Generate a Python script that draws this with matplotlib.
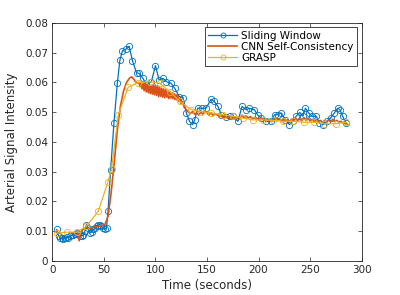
import matplotlib
matplotlib.use("Agg")
import matplotlib.pyplot as plt

# sliding window reconstruction
sw_t = [4.2, 6, 7.4, 9, 10.6, 12, 13.9, 15.5, 17, 18.5, 20, 22, 23.5, 25, 26.8, 28.5, 30,
        31.5, 33, 35, 36.5, 38, 39.7, 41.5, 43, 44.5, 46, 47.5, 49, 51, 52.5, 54, 56.5,
        59.7, 63, 65.5, 68, 71.3, 74.5, 77.7, 81.6, 84, 88, 91, 96, 100, 103.5, 107.4,
        110.6, 115, 118.7, 123, 126.8, 130, 133, 136, 138, 141, 145.5, 149, 154, 157,
        160.6, 164, 168, 172, 175, 180, 184, 188, 191, 196, 199, 202.6, 207, 212, 215.5,
        218.7, 222, 226, 230, 233, 236.5, 240, 243, 245.5, 248.7, 252, 256, 259, 263, 266,
        270, 273.5, 276.8, 279, 281.6, 285]
sw_y = [0.0106, 0.0085, 0.0078, 0.0076, 0.0074, 0.0078, 0.0080, 0.0079, 0.0083, 0.0086,
        0.0089, 0.0092, 0.0094, 0.0090, 0.0083, 0.0085, 0.0086, 0.0100, 0.0122, 0.0110,
        0.0094, 0.0098, 0.0106, 0.0110, 0.0119, 0.0121, 0.0122, 0.0118, 0.0110, 0.0107,
        0.0112, 0.0169, 0.0306, 0.0463, 0.0597, 0.0675, 0.0706, 0.0711, 0.0721, 0.0672,
        0.0632, 0.0630, 0.0613, 0.0591, 0.0602, 0.0656, 0.0608, 0.0613, 0.0602, 0.0597,
        0.0580, 0.0552, 0.0549, 0.0497, 0.0469, 0.0458, 0.0474, 0.0513, 0.0513, 0.0513,
        0.0543, 0.0536, 0.0519, 0.0491, 0.0482, 0.0486, 0.0486, 0.0469, 0.0519, 0.0508,
        0.0513, 0.0508, 0.0491, 0.0480, 0.0469, 0.0469, 0.0491, 0.0491, 0.0497, 0.0474,
        0.0458, 0.0469, 0.0486, 0.0499, 0.0486, 0.0513, 0.0497, 0.0486, 0.0486, 0.0463,
        0.0458, 0.0469, 0.0480, 0.0497, 0.0513, 0.0508, 0.0486, 0.0463]

# CNN self-consistency
cnn_t = [24, 25, 26, 27, 30, 33, 36, 40, 44, 48, 51, 54, 57, 60, 63, 66, 69, 72, 75, 77, 79,
         81, 83,
         84, 85, 86, 87, 88, 89, 90, 91, 92, 93, 94, 95, 96, 97, 98, 99, 100, 101, 102, 103,
         104, 105, 106, 107, 108, 109, 110, 111, 112, 113, 114, 115, 116, 117, 118, 119, 120,
         121, 122, 123, 124, 125, 126,
         128, 130, 132, 134, 136, 138, 140, 142, 144, 146, 148, 150, 152, 154, 156, 158, 160,
         162, 164, 166, 168, 170, 172, 174, 176, 178, 180, 182, 184, 186, 188, 190, 192, 194,
         196, 198, 200, 202, 204, 206, 208, 210, 212, 214, 216, 218, 220, 222, 224, 226, 228,
         230, 232, 234, 236, 238, 240, 242, 244, 246, 248, 250, 252, 254, 256, 258, 260, 262,
         264, 266, 268, 270, 272, 274, 276, 278, 280, 282, 284, 286]
cnn_y = [0.0088, 0.0092, 0.0068, 0.0095, 0.0108, 0.0112, 0.0110, 0.0113, 0.0116, 0.0120,
         0.0123, 0.0150, 0.0230, 0.0330, 0.0440, 0.0520, 0.0570, 0.0600, 0.0615, 0.0618,
         0.0610, 0.0600, 0.0598,
         0.0600, 0.0585, 0.0598, 0.0578, 0.0596, 0.0572, 0.0597, 0.0568, 0.0594, 0.0565,
         0.0595, 0.0562, 0.0590, 0.0560, 0.0593, 0.0558, 0.0590, 0.0556, 0.0588, 0.0552,
         0.0585, 0.0553, 0.0580, 0.0550, 0.0578, 0.0548, 0.0575, 0.0550, 0.0570, 0.0545,
         0.0568, 0.0547, 0.0565, 0.0545, 0.0562, 0.0542, 0.0558, 0.0540, 0.0552, 0.0535,
         0.0545, 0.0528, 0.0535,
         0.0515, 0.0508, 0.0500, 0.0495, 0.0502, 0.0493, 0.0497, 0.0490, 0.0500, 0.0493,
         0.0505, 0.0497, 0.0490, 0.0498, 0.0488, 0.0495, 0.0490, 0.0485, 0.0488, 0.0480,
         0.0486, 0.0479, 0.0484, 0.0477, 0.0485, 0.0478, 0.0483, 0.0477, 0.0490, 0.0480,
         0.0487, 0.0480, 0.0485, 0.0478, 0.0482, 0.0475, 0.0480, 0.0474, 0.0478, 0.0472,
         0.0477, 0.0471, 0.0476, 0.0470, 0.0480, 0.0472, 0.0478, 0.0470, 0.0475, 0.0469,
         0.0474, 0.0468, 0.0476, 0.0470, 0.0480, 0.0472, 0.0478, 0.0470, 0.0482, 0.0472,
         0.0480, 0.0470, 0.0476, 0.0468, 0.0474, 0.0467, 0.0472, 0.0466, 0.0471, 0.0465,
         0.0474, 0.0467, 0.0476, 0.0468, 0.0472, 0.0466, 0.0469, 0.0463, 0.0462, 0.0460]

# GRASP
grasp_t = [4.2, 13.9, 23.5, 33, 44.5, 54, 57.4, 63.9, 73.5, 83, 94.5, 104, 114, 123.5,
           134.8, 144.5, 154, 165.5, 175, 185, 194.5, 204, 214, 223.5, 233, 244.5, 254,
           264, 275, 285]
grasp_y = [0.0094, 0.0097, 0.0097, 0.0117, 0.0167, 0.0267, 0.0310, 0.0491, 0.0583, 0.0599,
           0.0602, 0.0597, 0.0569, 0.0536, 0.0508, 0.0502, 0.0497, 0.0491, 0.0486, 0.0480,
           0.0474, 0.0474, 0.0472, 0.0469, 0.0469, 0.0466, 0.0466, 0.0461, 0.0461, 0.0466]

fig = plt.figure(figsize=(4, 2.95), dpi=100)
ax = fig.add_axes([0.131, 0.115, 0.773, 0.808])

ax.plot(sw_t, sw_y, color='#0072BD', lw=0.9, marker='o', ms=4.5, mfc='none',
        mew=0.6, label='Sliding Window', zorder=3)
ax.plot(cnn_t, cnn_y, color='#D95319', lw=1.2, label='CNN Self-Consistency', zorder=4)
ax.plot(grasp_t, grasp_y, color='#EDB120', lw=0.9, marker='o', ms=4.5, mfc='none',
        mew=0.6, label='GRASP', zorder=5)

ax.set_xlim(0, 300)
ax.set_ylim(0, 0.08)
ax.set_xticks([0, 50, 100, 150, 200, 250, 300])
ax.set_yticks([0, 0.01, 0.02, 0.03, 0.04, 0.05, 0.06, 0.07, 0.08])
ax.set_yticklabels(['0', '0.01', '0.02', '0.03', '0.04', '0.05', '0.06', '0.07', '0.08'])
ax.tick_params(direction='in', top=True, right=True, labelsize=7.5, length=3,
               width=0.5, colors='#262626', pad=3)
for s in ax.spines.values():
    s.set_linewidth(0.6)
    s.set_color('#262626')
ax.set_xlabel('Time (seconds)', fontsize=8.5, color='#262626', labelpad=3)
ax.set_ylabel('Arterial Signal Intensity', fontsize=8.5, color='#262626', labelpad=5)

leg = ax.legend(loc='upper right', fontsize=7.5, fancybox=False, framealpha=1,
                edgecolor='#262626', borderpad=0.3, labelspacing=0.1,
                handlelength=2.8, handletextpad=0.4, borderaxespad=0.45, markerscale=0.8)
leg.get_frame().set_linewidth(0.6)

fig.savefig('out.png', dpi=100)
